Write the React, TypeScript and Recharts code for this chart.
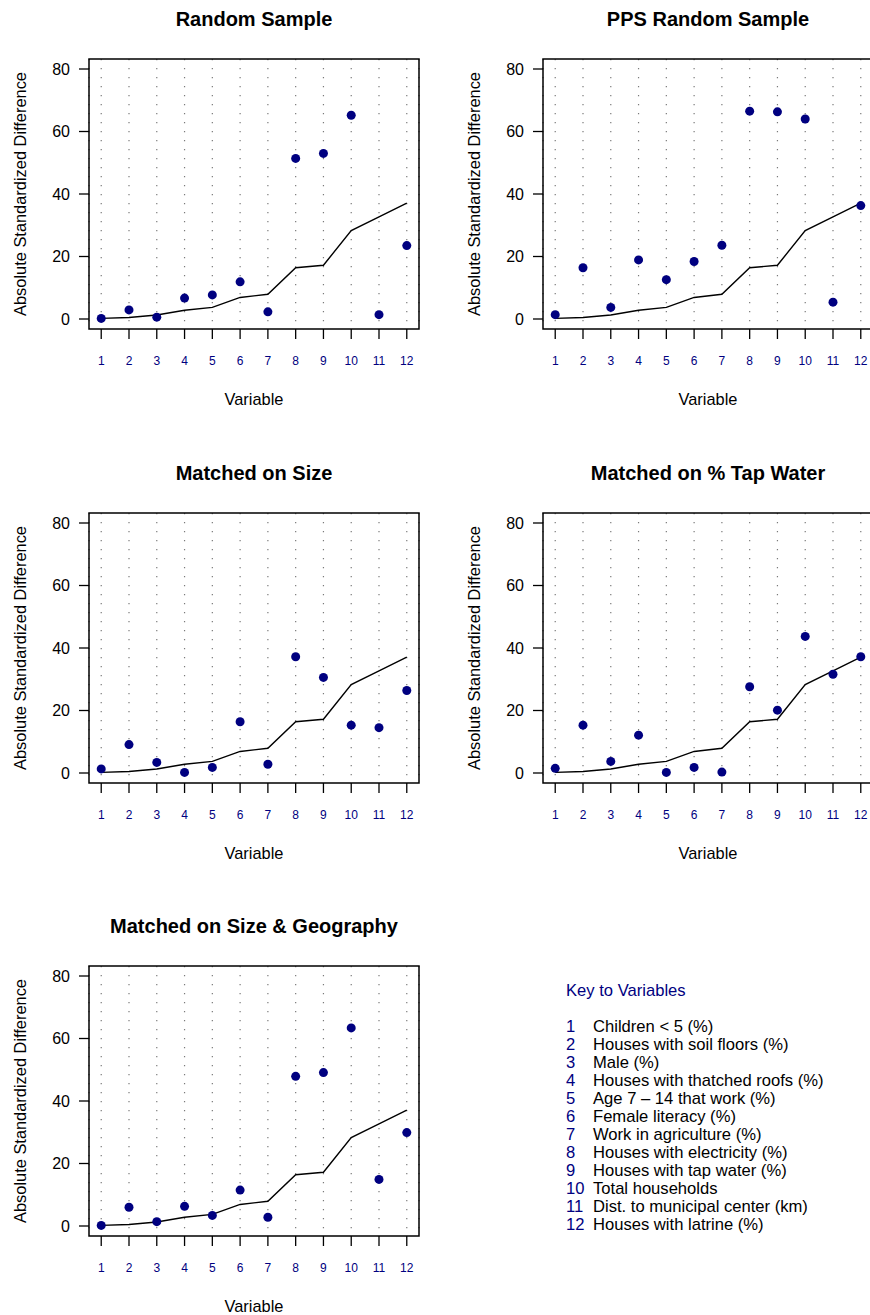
import React from "react";
import {
  ComposedChart,
  Line,
  Scatter,
  XAxis,
  YAxis,
  CartesianGrid,
  ReferenceArea,
} from "recharts";

// Variable index (1..12)
const variables = [1, 2, 3, 4, 5, 6, 7, 8, 9, 10, 11, 12];

// Reference curve shared by every panel
const referenceLine = [0.2, 0.5, 1.3, 2.8, 3.7, 6.9, 7.9, 16.4, 17.2, 28.3, 32.7, 37.1];

// Absolute standardized differences per sampling scheme
const randomSample = [0.2, 2.9, 0.6, 6.7, 7.7, 11.9, 2.3, 51.4, 53.0, 65.2, 1.4, 23.5];
const ppsRandomSample = [1.4, 16.4, 3.7, 18.9, 12.6, 18.4, 23.6, 66.5, 66.3, 64.0, 5.4, 36.3];
const matchedOnSize = [1.3, 9.1, 3.4, 0.2, 1.8, 16.4, 2.8, 37.2, 30.6, 15.3, 14.5, 26.4];
const matchedOnTapWater = [1.5, 15.3, 3.7, 12.1, 0.2, 1.8, 0.3, 27.6, 20.1, 43.7, 31.6, 37.2];
const matchedOnSizeGeo = [0.2, 6.0, 1.4, 6.3, 3.4, 11.5, 2.8, 47.9, 49.1, 63.4, 14.9, 29.9];

const yTicks = [0, 20, 40, 60, 80];

const keyLabels = [
  "Children < 5 (%)",
  "Houses with soil floors (%)",
  "Male (%)",
  "Houses with thatched roofs (%)",
  "Age 7 \u2013 14 that work (%)",
  "Female literacy (%)",
  "Work in agriculture (%)",
  "Houses with electricity (%)",
  "Houses with tap water (%)",
  "Total households",
  "Dist. to municipal center (km)",
  "Houses with latrine (%)",
];

const FONT = "'Liberation Sans', Arial, Helvetica, sans-serif";
const NAVY = "#000080";

const X_DOMAIN: [number, number] = [0.56, 12.44];
const Y_DOMAIN: [number, number] = [-3.2, 83.2];

type PanelProps = {
  title: string;
  values: number[];
  left: number;
  top: number;
};

const dotShape = (props: any) => (
  <circle cx={props.cx} cy={props.cy} r={4.5} fill={NAVY} stroke="none" />
);

const yLabel = (props: any) => {
  const vb = props.viewBox || {};
  const cx = 20;
  const cy = (vb.y ?? 59) + (vb.height ?? 270) / 2;
  return (
    <text
      x={cx}
      y={cy}
      transform={`rotate(-90, ${cx}, ${cy})`}
      textAnchor="middle"
      dy="0.355em"
      fontSize={16.4}
      fontFamily={FONT}
      fill="#000"
    >
      Absolute Standardized Difference
    </text>
  );
};

const xLabel = (props: any) => {
  const vb = props.viewBox || {};
  const cx = (vb.x ?? 89) + (vb.width ?? 330) / 2;
  return (
    <text
      x={cx}
      y={405}
      textAnchor="middle"
      fontSize={16.4}
      fontFamily={FONT}
      fill="#000"
    >
      Variable
    </text>
  );
};

function Panel({ title, values, left, top }: PanelProps) {
  const data = variables.map((v, i) => ({
    v,
    base: referenceLine[i],
    val: values[i],
  }));
  return (
    <div style={{ position: "absolute", left, top, width: 454, height: 409 }}>
      <div
        style={{
          position: "absolute",
          left: 89,
          width: 330,
          top: 9,
          textAlign: "center",
          fontFamily: FONT,
          fontWeight: "bold",
          fontSize: 20,
          lineHeight: "20px",
          whiteSpace: "nowrap",
          color: "#000",
        }}
      >
        {title}
      </div>
      <div style={{ position: "absolute", left: 0, top: 0 }}>
        <ComposedChart
          width={454}
          height={409}
          data={data}
          margin={{ top: 59, right: 35, bottom: 0, left: 0 }}
        >
          <CartesianGrid
            horizontal={false}
            stroke="#7a7a7a"
            strokeDasharray="1.3 7.7"
            strokeWidth={1.2}
          />
          <XAxis
            type="number"
            dataKey="v"
            domain={X_DOMAIN}
            ticks={variables}
            interval={0}
            allowDataOverflow
            axisLine={false}
            tickSize={10}
            tickMargin={17}
            tickLine={{ stroke: "#000", strokeWidth: 1.3 }}
            tick={{ fill: NAVY, fontSize: 12, fontFamily: FONT }}
            height={80}
            label={xLabel}
          />
          <YAxis
            type="number"
            domain={Y_DOMAIN}
            ticks={yTicks}
            interval={0}
            allowDataOverflow
            axisLine={false}
            tickSize={10}
            tickMargin={9}
            tickLine={{ stroke: "#000", strokeWidth: 1.3 }}
            tick={{ fill: "#000", fontSize: 16, fontFamily: FONT }}
            width={89}
            label={yLabel}
          />
          <ReferenceArea
            x1={X_DOMAIN[0]}
            x2={X_DOMAIN[1]}
            y1={Y_DOMAIN[0]}
            y2={Y_DOMAIN[1]}
            fill="none"
            fillOpacity={0}
            stroke="#000"
            strokeWidth={1.5}
            ifOverflow="visible"
          />
          <Line
            type="linear"
            dataKey="base"
            stroke="#000"
            strokeWidth={1.4}
            dot={false}
            activeDot={false}
            isAnimationActive={false}
          />
          <Scatter dataKey="val" fill={NAVY} shape={dotShape} isAnimationActive={false} />
        </ComposedChart>
      </div>
    </div>
  );
}

function VariableKey() {
  return (
    <svg
      width={320}
      height={300}
      style={{ position: "absolute", left: 550, top: 970, overflow: "visible" }}
    >
      <text x={16} y={26} fontSize={16.6} fontFamily={FONT} fill={NAVY}>
        Key to Variables
      </text>
      {keyLabels.map((label, i) => (
        <g key={label}>
          <text x={16} y={61.7 + i * 18.06} fontSize={16.6} fontFamily={FONT} fill={NAVY}>
            {variables[i]}
          </text>
          <text x={43} y={61.7 + i * 18.06} fontSize={16.6} fontFamily={FONT} fill="#000">
            {label}
          </text>
        </g>
      ))}
    </svg>
  );
}

export default function App() {
  return (
    <div
      style={{
        position: "absolute",
        left: 0,
        top: 0,
        width: 870,
        height: 1315,
        background: "#fff",
        overflow: "hidden",
      }}
    >
      <Panel title="Random Sample" values={randomSample} left={0} top={0} />
      <Panel title="PPS Random Sample" values={ppsRandomSample} left={454} top={0} />
      <Panel title="Matched on Size" values={matchedOnSize} left={0} top={454} />
      <Panel title="Matched on % Tap Water" values={matchedOnTapWater} left={454} top={454} />
      <Panel title="Matched on Size & Geography" values={matchedOnSizeGeo} left={0} top={907} />
      <VariableKey />
    </div>
  );
}
